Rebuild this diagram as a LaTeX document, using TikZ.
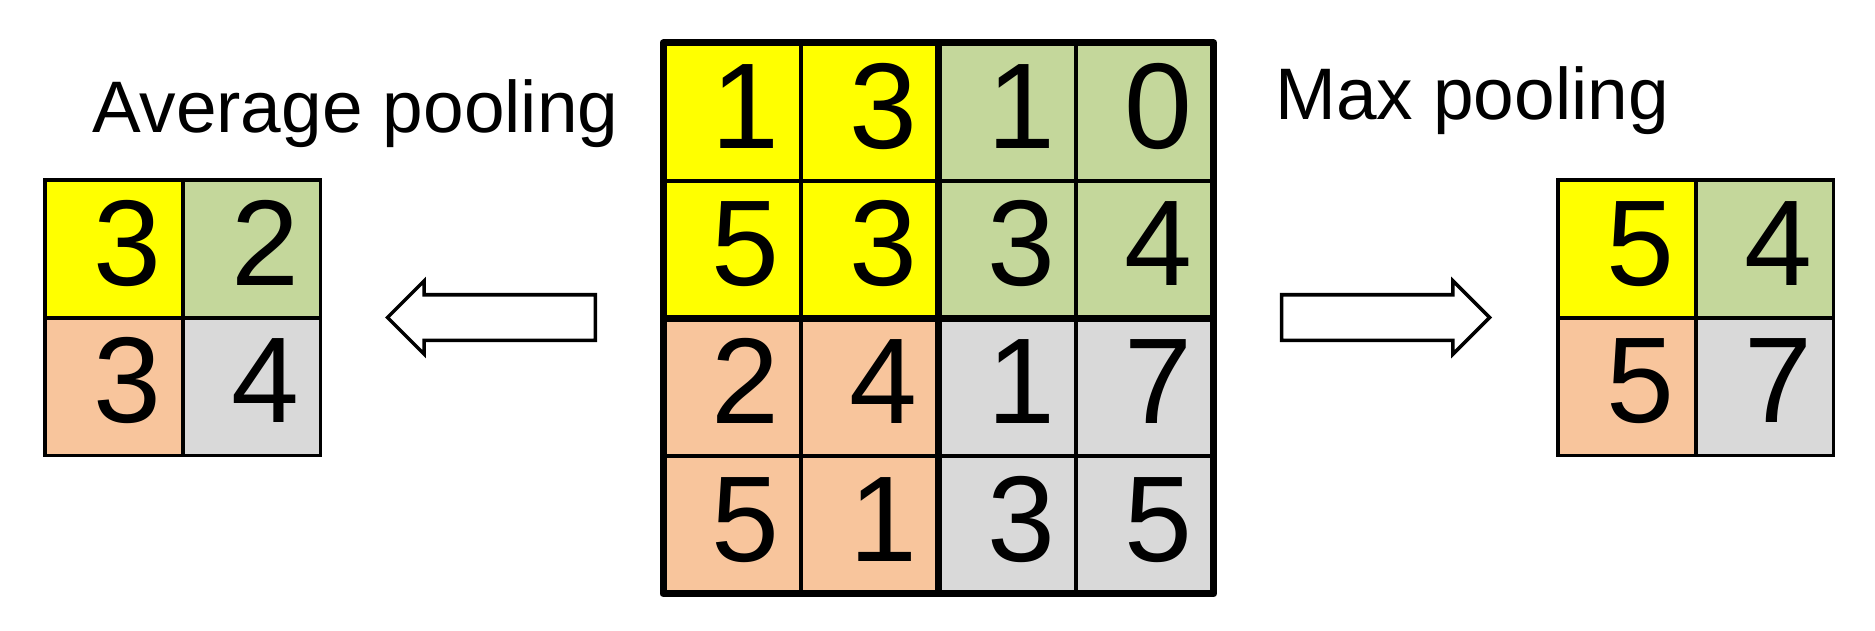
\documentclass[tikz,border=0pt]{standalone}
\usepackage{fontspec}
\setmainfont{Liberation Sans}
\usetikzlibrary{shapes.arrows}

\definecolor{poolyellow}{HTML}{FFFF00}
\definecolor{poolgreen}{HTML}{C4D79B}
\definecolor{poolpeach}{HTML}{F8C59C}
\definecolor{poolgray}{HTML}{D9D9D9}

\begin{document}
\begin{tikzpicture}[x=1pt,y=-1pt,
  cell/.style={rectangle,draw=black,line width=3.8pt,outer sep=0pt,
    minimum width=137.7pt,minimum height=137.7pt,inner xsep=21pt,inner ysep=0pt,
    text width=95.7pt,align=right,text height=105.2pt,text depth=32.5pt,
    font=\fontsize{122}{122}\selectfont},
  title/.style={anchor=base west,inner sep=0pt,font=\fontsize{73}{73}\selectfont},
  blockarrow/.style={single arrow,draw=black,fill=white,line width=3.5pt,
    inner xsep=0pt,inner ysep=21pt,single arrow head extend=14pt,
    single arrow tip angle=90,minimum height=208pt,anchor=tip}]
\useasboundingbox (0,0) rectangle (1875,631);

% input map
\node at ( 731.85, 111.85) (x11) [cell,fill=poolyellow] {1};
\node at ( 869.55, 111.85) (x12) [cell,fill=poolyellow] {3};
\node at (1007.25, 111.85) (x13) [cell,fill=poolgreen]  {1};
\node at (1144.95, 111.85) (x14) [cell,fill=poolgreen]  {0};
\node at ( 731.85, 249.55) (x21) [cell,fill=poolyellow] {5};
\node at ( 869.55, 249.55) (x22) [cell,fill=poolyellow] {3};
\node at (1007.25, 249.55) (x23) [cell,fill=poolgreen]  {3};
\node at (1144.95, 249.55) (x24) [cell,fill=poolgreen]  {4};
\node at ( 731.85, 387.25) (x31) [cell,fill=poolpeach]  {2};
\node at ( 869.55, 387.25) (x32) [cell,fill=poolpeach]  {4};
\node at (1007.25, 387.25) (x33) [cell,fill=poolgray]   {1};
\node at (1144.95, 387.25) (x34) [cell,fill=poolgray]   {7};
\node at ( 731.85, 524.95) (x41) [cell,fill=poolpeach]  {5};
\node at ( 869.55, 524.95) (x42) [cell,fill=poolpeach]  {1};
\node at (1007.25, 524.95) (x43) [cell,fill=poolgray]   {3};
\node at (1144.95, 524.95) (x44) [cell,fill=poolgray]   {5};
\draw [line width=7pt,line join=round] (x11.north west) rectangle (x44.south east);
\draw [line width=7pt] (x13.north west) -- (x43.south west);
\draw [line width=7pt] (x31.north west) -- (x34.north east);

% average pooling
\node at ( 113.85, 248.85) (a11) [cell,fill=poolyellow] {3};
\node at ( 251.55, 248.85) (a12) [cell,fill=poolgreen]  {2};
\node at ( 113.85, 386.55) (a21) [cell,fill=poolpeach]  {3};
\node at ( 251.55, 386.55) (a22) [cell,fill=poolgray]   {4};
\node at (92, 133) (avgtitle) [title] {Average pooling};

% max pooling
\node at (1626.85, 248.85) (m11) [cell,fill=poolyellow] {5};
\node at (1764.55, 248.85) (m12) [cell,fill=poolgreen]  {4};
\node at (1626.85, 386.55) (m21) [cell,fill=poolpeach]  {5};
\node at (1764.55, 386.55) (m22) [cell,fill=poolgray]   {7};
\node at (1275, 120) (maxtitle) [title] {Max pooling};

% arrows
\node at ( 385, 317.5) (toavg) [blockarrow,shape border rotate=180] {};
\node at (1492, 317.5) (tomax) [blockarrow] {};
\end{tikzpicture}
\end{document}
